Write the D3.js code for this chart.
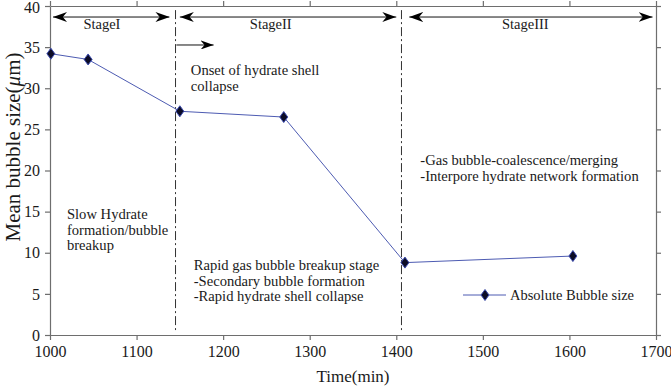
<!DOCTYPE html>
<html>
<head>
<meta charset="utf-8">
<script src="https://cdn.jsdelivr.net/npm/d3@7/dist/d3.min.js"></script>
<style>
  html, body { margin: 0; padding: 0; background: #fff; }
  svg { display: block; }
  text { font-family: "Liberation Serif", "DejaVu Serif", serif; fill: #1a1a1a; }
</style>
</head>
<body>
<svg id="chart" width="671" height="386"></svg>
<script>
// ---- data ----
const times = [1001, 1044, 1150, 1270, 1410, 1604];
const bubbleSize = [34.2, 33.5, 27.2, 26.5, 8.8, 9.6];
const seriesName = "Absolute Bubble size";
const xTicks = [1000, 1100, 1200, 1300, 1400, 1500, 1600, 1700];
const yTicks = [0, 5, 10, 15, 20, 25, 30, 35, 40];
const stageBounds = [1145, 1406];
const stageNames = ["StageI", "StageII", "StageIII"];
const stageArrows = [[1003.5, 1138], [1150, 1400], [1415, 1696]];
const stageLabelX = [1060, 1255, 1549];
const notes = [
  { x: 1162.7, y: 31.6, lines: ["Onset of hydrate shell", "collapse"] },
  { x: 1019.6, y: 14.1, lines: ["Slow Hydrate", "formation/bubble", "breakup"] },
  { x: 1166, y: 7.9, lines: ["Rapid gas bubble breakup stage", "-Secondary bubble formation", "-Rapid hydrate shell collapse"] },
  { x: 1427.7, y: 20.67, lines: ["-Gas bubble-coalescence/merging", "-Interpore hydrate network formation"] }
];
const onsetArrow = [1146, 1189, 35.26];

// ---- layout ----
const svg = d3.select("#chart");
const x = d3.scaleLinear().domain([1000, 1700]).range([50, 656]);
const y = d3.scaleLinear().domain([0, 40]).range([335, 6]);
const axisColor = "#6e6e6e";

// arrowhead marker
const defs = svg.append("defs");
function mk(id, len, wid) {
  defs.append("marker")
    .attr("id", id)
    .attr("viewBox", `0 ${-wid/2} ${len} ${wid}`)
    .attr("refX", len).attr("refY", 0)
    .attr("markerUnits", "userSpaceOnUse")
    .attr("markerWidth", len).attr("markerHeight", wid)
    .attr("orient", "auto-start-reverse")
    .append("path")
    .attr("d", `M${len},0 L0,${-wid/2} L${len*0.3},0 L0,${wid/2} Z`)
    .attr("fill", "#000");
}
mk("ah", 14, 10);
mk("ah2", 13, 9);

// axes
function styleAxis(g) {
  g.selectAll("path.domain").attr("stroke", axisColor).attr("stroke-width", 1.2);
  g.selectAll(".tick line").attr("stroke", axisColor).attr("stroke-width", 1.2);
  g.selectAll(".tick text").attr("font-family", "Liberation Serif").attr("fill", "#1a1a1a");
}
const gx = svg.append("g").attr("transform", `translate(0,${y(0)})`)
  .call(d3.axisBottom(x).tickValues(xTicks).tickSize(5).tickSizeOuter(0).tickPadding(6).tickFormat(d3.format("d")));
gx.selectAll("text").attr("font-size", 16);
styleAxis(gx);
const gy = svg.append("g").attr("transform", `translate(${x(1000)},0)`)
  .call(d3.axisLeft(y).tickValues(yTicks).tickSize(5).tickSizeOuter(0).tickPadding(5));
gy.selectAll("text").attr("font-size", 16);
gy.selectAll(".tick text").filter(d => d === 40).attr("dy", "0.42em");
styleAxis(gy);
const gt = svg.append("g").attr("transform", `translate(0,${y(40)})`)
  .call(d3.axisTop(x).tickValues(xTicks).tickSize(5).tickSizeOuter(0).tickFormat(""));
styleAxis(gt);
const gr = svg.append("g").attr("transform", `translate(${x(1700)},0)`)
  .call(d3.axisRight(y).tickValues(yTicks).tickSize(5).tickSizeOuter(0).tickFormat(""));
styleAxis(gr);

// axis titles
svg.append("text").attr("x", 353).attr("y", 382).attr("text-anchor", "middle")
  .attr("font-size", 17).text("Time(min)");
const yl = svg.append("text").attr("transform", "translate(20,147) rotate(-90)")
  .attr("text-anchor", "middle").attr("font-size", 21);
yl.append("tspan").text("Mean bubble size(");
yl.append("tspan").attr("font-style", "italic").text("μ");
yl.append("tspan").text("m)");

// stage boundaries
svg.selectAll("line.bound").data(stageBounds).join("line")
  .attr("x1", d => x(d)).attr("x2", d => x(d))
  .attr("y1", y(39.5)).attr("y2", y(0.6))
  .attr("stroke", "#333").attr("stroke-width", 1)
  .attr("stroke-dasharray", "9,3,2,3");

// stage arrows
svg.selectAll("line.stage").data(stageArrows).join("line")
  .attr("x1", d => x(d[0])).attr("x2", d => x(d[1]))
  .attr("y1", y(38.66)).attr("y2", y(38.66))
  .attr("stroke", "#111").attr("stroke-width", 1)
  .attr("marker-start", "url(#ah)").attr("marker-end", "url(#ah)");
svg.selectAll("text.stage").data(stageNames).join("text")
  .attr("x", (d, i) => x(stageLabelX[i])).attr("y", y(37.2))
  .attr("text-anchor", "middle").attr("font-size", 14.5).text(d => d);

// onset arrow
svg.append("line")
  .attr("x1", x(onsetArrow[0])).attr("x2", x(onsetArrow[1]))
  .attr("y1", y(onsetArrow[2])).attr("y2", y(onsetArrow[2]))
  .attr("stroke", "#111").attr("stroke-width", 1)
  .attr("marker-end", "url(#ah2)");

// notes
notes.forEach(n => {
  const t = svg.append("text").attr("x", x(n.x)).attr("y", y(n.y)).attr("font-size", 14.6);
  n.lines.forEach((l, i) => {
    t.append("tspan").attr("x", x(n.x)).attr("dy", i === 0 ? 0 : 15.7).text(l);
  });
});

// series
const lineColor = "#4d5bb2";
svg.append("path")
  .datum(times.map((t, i) => [t, bubbleSize[i]]))
  .attr("fill", "none").attr("stroke", lineColor).attr("stroke-width", 1)
  .attr("d", d3.line().x(d => x(d[0])).y(d => y(d[1])));
const diamond = "M0,-5.5 L4,0 L0,5.5 L-4,0 Z";
svg.selectAll("path.mk").data(times.map((t, i) => [t, bubbleSize[i]])).join("path")
  .attr("d", diamond)
  .attr("transform", d => `translate(${x(d[0])},${y(d[1])})`)
  .attr("fill", "#0c0c26").attr("stroke", "#3b4bb0").attr("stroke-width", 1);

// legend
const lg = svg.append("g").attr("transform", "translate(463,295)");
lg.append("line").attr("x1", 0).attr("x2", 43).attr("y1", 0).attr("y2", 0)
  .attr("stroke", lineColor).attr("stroke-width", 1);
lg.append("path").attr("d", diamond).attr("transform", "translate(22,0)")
  .attr("fill", "#0c0c26").attr("stroke", "#3b4bb0").attr("stroke-width", 1);
lg.append("text").attr("x", 47).attr("y", 5).attr("font-size", 14.5).text(seriesName);
</script>
</body>
</html>
